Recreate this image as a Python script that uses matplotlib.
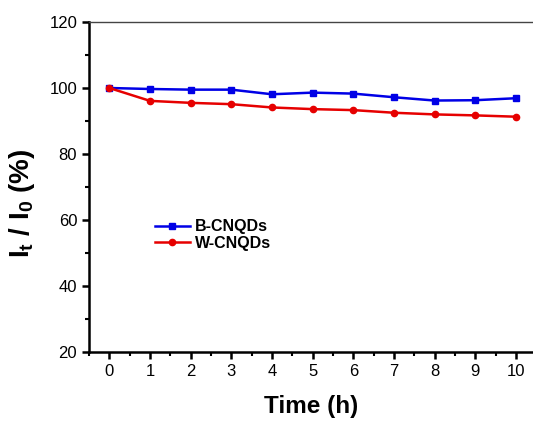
import matplotlib
matplotlib.use('Agg')
import matplotlib.pyplot as plt
from matplotlib.ticker import MultipleLocator

plt.rcParams['font.family'] = ['Liberation Sans', 'DejaVu Sans']
plt.rcParams['mathtext.fontset'] = 'custom'
plt.rcParams['mathtext.rm'] = 'Liberation Sans'
plt.rcParams['mathtext.bf'] = 'Liberation Sans:bold'

# data
hours = [0, 1, 2, 3, 4, 5, 6, 7, 8, 9, 10]
b_cnqds = [100.0, 99.7, 99.5, 99.5, 98.1, 98.6, 98.3, 97.2, 96.2, 96.3, 96.9]
w_cnqds = [100.0, 96.1, 95.5, 95.1, 94.1, 93.6, 93.3, 92.5, 92.0, 91.7, 91.3]


fig = plt.figure(figsize=(5.33, 4.21), dpi=100)
ax = fig.add_axes([89 / 533, 1 - 352 / 421, 1 - 89 / 533, 330 / 421])

ax.plot(hours, b_cnqds, color='#0000e6', marker='s', markersize=4.5, lw=1.8, label='B-CNQDs')
ax.plot(hours, w_cnqds, color='#e60000', marker='o', markersize=4.5, lw=1.8, label='W-CNQDs')

ax.set_xlim(-0.5, 10.42)
ax.set_ylim(20, 120)
ax.xaxis.set_major_locator(MultipleLocator(1))
ax.xaxis.set_minor_locator(MultipleLocator(0.5))
ax.yaxis.set_major_locator(MultipleLocator(20))
ax.yaxis.set_minor_locator(MultipleLocator(10))

ax.spines['right'].set_visible(False)
ax.spines['left'].set_linewidth(1.8)
ax.spines['bottom'].set_linewidth(1.8)
ax.spines['top'].set_linewidth(1.0)
ax.spines['top'].set_color('#444444')

ax.tick_params(which='major', direction='out', length=5, width=1.8, labelsize=12)
ax.tick_params(which='minor', direction='out', length=3, width=1.5)
ax.tick_params(top=False, right=False, which='both')

ax.set_xlabel('Time (h)', fontsize=17.5, fontweight='bold', labelpad=12)
ax.set_ylabel(r'$\mathbf{I_t}$ / $\mathbf{I_0}$ (%)', fontsize=20, fontweight='bold')
ax.yaxis.set_label_coords(-0.118, 0.45)

leg = ax.legend(loc='upper left', bbox_to_anchor=(0.134, 0.422), frameon=False,
                prop={'weight': 'bold', 'size': 11.5}, handlelength=2.2,
                handletextpad=0.3, labelspacing=0.1, borderaxespad=0)

fig.savefig('out.png', dpi=100)
